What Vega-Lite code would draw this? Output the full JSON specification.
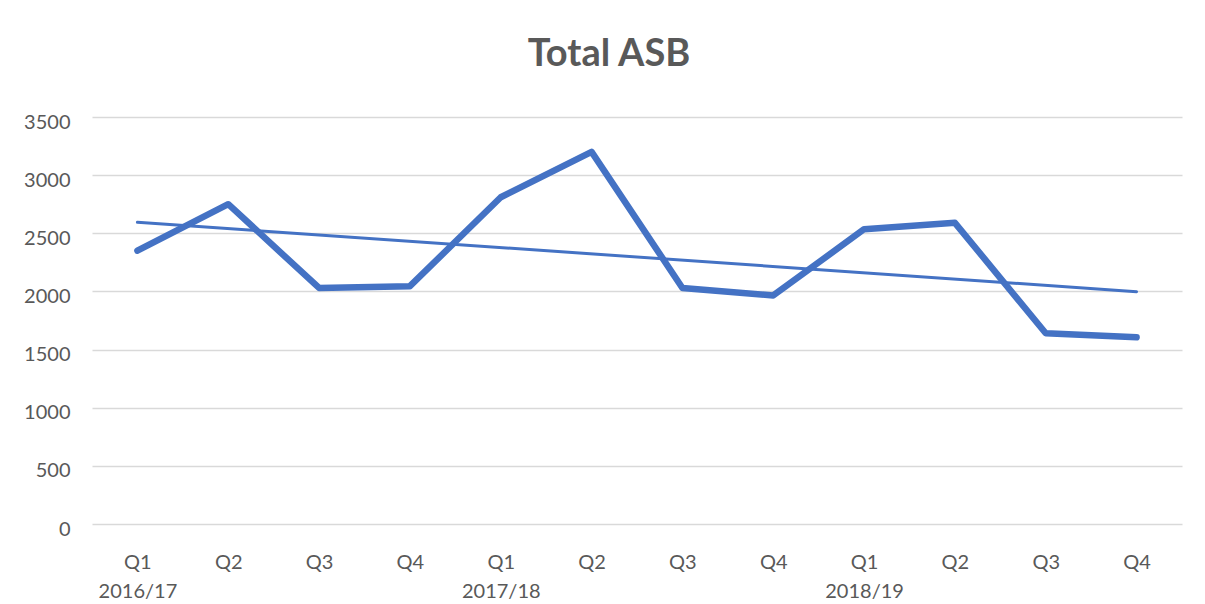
{
  "$schema": "https://vega.github.io/schema/vega-lite/v6.json",
  "width": 1090,
  "height": 407,
  "autosize": "none",
  "padding": {"left": 92, "top": 117, "right": 23, "bottom": 80},
  "background": "white",
  "config": {"view": {"stroke": null}, "font": "Lato"},
  "title": {"text": "Total ASB", "fontSize": 38, "fontWeight": "bold", "color": "#595959", "offset": 38, "anchor": "middle", "dx": -28, "font": "Lato"},
  "data": {"values": [
    {"i": 0, "quarter": "Q1", "year": "2016/17", "value": 2350},
    {"i": 1, "quarter": "Q2", "year": "2016/17", "value": 2750},
    {"i": 2, "quarter": "Q3", "year": "2016/17", "value": 2030},
    {"i": 3, "quarter": "Q4", "year": "2016/17", "value": 2045},
    {"i": 4, "quarter": "Q1", "year": "2017/18", "value": 2810},
    {"i": 5, "quarter": "Q2", "year": "2017/18", "value": 3200},
    {"i": 6, "quarter": "Q3", "year": "2017/18", "value": 2030},
    {"i": 7, "quarter": "Q4", "year": "2017/18", "value": 1965},
    {"i": 8, "quarter": "Q1", "year": "2018/19", "value": 2535},
    {"i": 9, "quarter": "Q2", "year": "2018/19", "value": 2590},
    {"i": 10, "quarter": "Q3", "year": "2018/19", "value": 1640},
    {"i": 11, "quarter": "Q4", "year": "2018/19", "value": 1605}
  ]},
  "encoding": {
    "x": {
      "field": "i", "type": "quantitative",
      "scale": {"domain": [-0.5, 11.5], "nice": false, "zero": false},
      "axis": {
        "title": null, "values": [0,1,2,3,4,5,6,7,8,9,10,11],
        "grid": false, "domain": false, "ticks": false,
        "labelFontSize": 20, "labelColor": "#595959", "labelPadding": 28,
        "labelLineHeight": 29, "labelFlush": false, "labelOverlap": false,
        "labelExpr": "datum.value % 4 == 0 ? ['Q1', ['2016/17','2017/18','2018/19'][floor(datum.value / 4)]] : 'Q' + (datum.value % 4 + 1)"
      }
    },
    "y": {
      "field": "value", "type": "quantitative",
      "scale": {"domain": [0, 3500], "nice": false},
      "axis": {
        "title": null, "values": [0,500,1000,1500,2000,2500,3000,3500], "format": "d",
        "grid": true, "gridColor": "#d9d9d9", "gridWidth": 1.5,
        "domain": false, "ticks": false,
        "labelFontSize": 20, "labelColor": "#595959", "labelPadding": 22, "labelOffset": 5
      }
    }
  },
  "layer": [
    {"mark": {"type": "line", "color": "#4472C4", "strokeWidth": 6.5, "strokeCap": "round", "strokeJoin": "round"}},
    {"transform": [{"regression": "value", "on": "i"}],
     "mark": {"type": "line", "color": "#4472C4", "strokeWidth": 3, "strokeCap": "round"}}
  ]
}
